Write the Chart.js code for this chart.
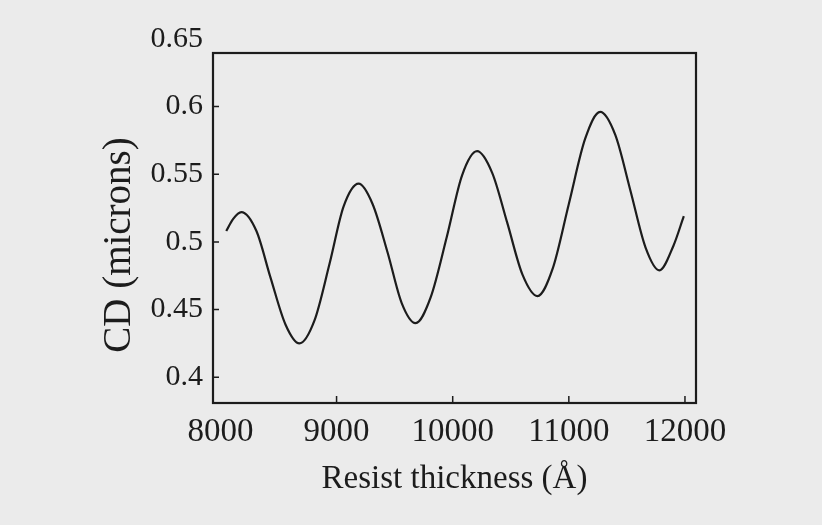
<!DOCTYPE html>
<html>
<head>
<meta charset="utf-8">
<script src="https://cdn.jsdelivr.net/npm/chart.js@4"></script>
<style>
  html, body { margin: 0; padding: 0; background: #ebebeb; }
  #wrap { width: 822px; height: 525px; }
</style>
</head>
<body>
<div id="wrap"><canvas id="cd"></canvas></div>
<script>
// resist thickness (angstrom) vs CD (microns)
const thickness = [8050, 8110, 8180, 8310, 8430, 8560, 8680, 8810, 8940, 9060, 9190,
  9310, 9440, 9560, 9680, 9810, 9950, 10080, 10210, 10340, 10470, 10600, 10730,
  10860, 11000, 11140, 11270, 11400, 11530, 11660, 11780, 11900, 11990];
const cdValues = [0.508, 0.517, 0.522, 0.508, 0.474, 0.439, 0.425, 0.442, 0.484, 0.526, 0.543,
  0.528, 0.492, 0.455, 0.440, 0.459, 0.504, 0.549, 0.567, 0.551, 0.514, 0.476, 0.460,
  0.480, 0.528, 0.576, 0.596, 0.579, 0.538, 0.496, 0.479, 0.497, 0.519];

const xTicks = [8000, 9000, 10000, 11000, 12000];
const yTicks = [0.4, 0.45, 0.5, 0.55, 0.6, 0.65];
const xTitle = "Resist thickness (Å)";
const yTitle = "CD (microns)";

const INK = "#1c1c1c";
const SERIF = "Liberation Serif";

// box around the plot, short inward tick marks, and the y title
// (the scan has it sitting a bit below the middle of the axis)
const framePlugin = {
  id: "frame",
  afterDraw(chart) {
    const { ctx, chartArea: a, scales } = chart;
    ctx.save();
    ctx.strokeStyle = INK;
    ctx.lineWidth = 1.5;
    ctx.beginPath();
    scales.x.ticks.forEach((t) => {
      const px = scales.x.getPixelForValue(t.value);
      if (px < a.left + 10 || px > a.right - 2) return;
      ctx.moveTo(px, a.bottom);
      ctx.lineTo(px, a.bottom - 7);
    });
    scales.y.ticks.forEach((t) => {
      const py = scales.y.getPixelForValue(t.value);
      if (py < a.top + 2 || py > a.bottom - 2) return;
      ctx.moveTo(a.left, py);
      ctx.lineTo(a.left + 6, py);
    });
    ctx.stroke();
    ctx.lineWidth = 2.2;
    ctx.strokeRect(a.left, a.top, a.right - a.left, a.bottom - a.top);

    ctx.translate(a.left - 93, (a.top + a.bottom) / 2 + 17);
    ctx.rotate(-Math.PI / 2);
    ctx.fillStyle = INK;
    ctx.font = "39px " + SERIF;
    ctx.textAlign = "center";
    ctx.textBaseline = "middle";
    ctx.fillText(yTitle, 0, 0);
    ctx.restore();
  },
};

new Chart(document.getElementById("cd"), {
  type: "line",
  data: {
    datasets: [
      {
        data: thickness.map((x, i) => ({ x, y: cdValues[i] })),
        borderColor: INK,
        borderWidth: 2.2,
        pointRadius: 0,
        cubicInterpolationMode: "monotone",
        fill: false,
      },
    ],
  },
  options: {
    responsive: true,
    maintainAspectRatio: false,
    animation: false,
    layout: { padding: { left: 103, top: 53, right: 126, bottom: 25 } },
    plugins: { legend: { display: false }, tooltip: { enabled: false } },
    scales: {
      x: {
        type: "linear",
        min: 7936,
        max: 12095,
        afterBuildTicks: (s) => { s.ticks = xTicks.map((v) => ({ value: v })); },
        afterFit: (s) => { s.height = 97; },
        grid: { display: false, drawTicks: false },
        border: { display: false },
        ticks: {
          autoSkip: false,
          maxRotation: 0,
          padding: 10,
          color: INK,
          font: { family: SERIF, size: 33 },
          callback: (v) => String(v),
        },
        title: {
          display: true,
          text: xTitle,
          color: INK,
          font: { family: SERIF, size: 33 },
          padding: { top: 0, bottom: 1 },
        },
      },
      y: {
        min: 0.381,
        max: 0.6395,
        afterBuildTicks: (s) => { s.ticks = yTicks.map((v) => ({ value: v })); },
        afterFit: (s) => { s.width = 110; },
        grid: { display: false, drawTicks: false },
        border: { display: false },
        ticks: {
          autoSkip: false,
          padding: 10,
          color: INK,
          font: { family: SERIF, size: 30 },
          callback: (v) => String(v),
        },
        title: { display: false },
      },
    },
  },
  plugins: [framePlugin],
});
</script>
</body>
</html>
